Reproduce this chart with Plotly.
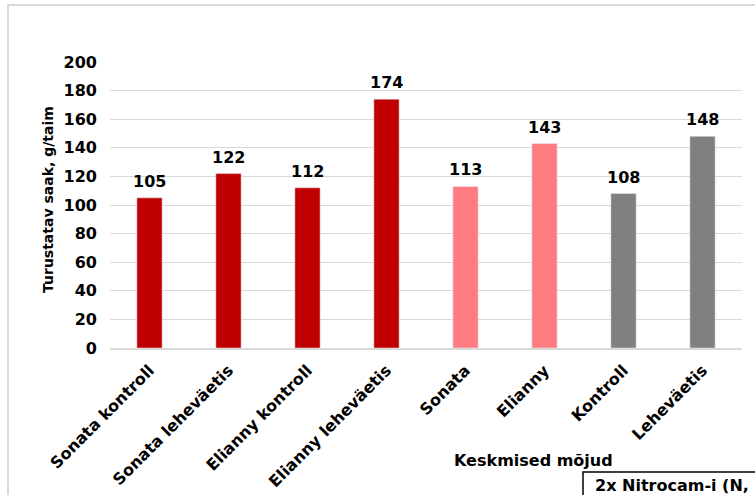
import plotly.graph_objects as go

categories = ["Sonata kontroll", "Sonata leheväetis", "Elianny kontroll", "Elianny leheväetis",
              "Sonata", "Elianny", "Kontroll", "Leheväetis"]
values = [105, 122, 112, 174, 113, 143, 108, 148]
colors = ["#C00000", "#C00000", "#C00000", "#C00000", "#FF7C80", "#FF7C80", "#808080", "#808080"]
y_ticks = [0, 20, 40, 60, 80, 100, 120, 140, 160, 180, 200]

FONT = "DejaVu Sans"
W, H = 755, 495
L, R, T, B = 110, 13, 62, 147
pw, ph = W - L - R, H - T - B

def px(x):
    return (x - L) / pw

def py(y):
    return (H - B - y) / ph

fig = go.Figure(go.Bar(
    x=categories, y=values, marker_color=colors,
    cliponaxis=False,
))

label_annotations = [
    dict(text=str(v), x=c, y=v, xref="x", yref="y", showarrow=False,
         yanchor="bottom", xanchor="center", yshift=5,
         font=dict(family=FONT, size=16, color="#000000", weight="bold"))
    for c, v in zip(categories, values)
]

fig.update_layout(
    width=W, height=H,
    margin=dict(l=L, r=R, t=T, b=B, autoexpand=False),
    plot_bgcolor="white", paper_bgcolor="white",
    bargap=0.68, showlegend=False,
    font=dict(family=FONT, color="#000000"),
    xaxis=dict(
        tickangle=-45, tickfont=dict(family=FONT, size=16, color="#000000", weight="bold"),
        showline=True, linecolor="#D9D9D9", linewidth=1.5, ticks="",
        showgrid=False, automargin=False, ticklabelstandoff=5,
    ),
    yaxis=dict(
        range=[0, 200], tickvals=y_ticks,
        tickfont=dict(family=FONT, size=16, color="#000000", weight="bold"),
        showgrid=True, gridcolor="#D9D9D9", gridwidth=1,
        zeroline=False, ticks="", ticklabelstandoff=12, automargin=False,
    ),
    shapes=[
        dict(type="rect", xref="paper", yref="paper",
             x0=px(8), x1=px(770), y0=py(5), y1=py(510),
             line=dict(color="#D9D9D9", width=2), fillcolor="rgba(0,0,0,0)", layer="below"),
        dict(type="rect", xref="paper", yref="paper",
             x0=px(583), x1=px(770), y0=py(472), y1=py(510),
             line=dict(color="#000000", width=1.5), fillcolor="white"),
    ],
    annotations=label_annotations + [
        dict(text="Turustatav saak, g/taim", xref="paper", yref="paper",
             x=px(48), y=py(200), textangle=-90, showarrow=False,
             font=dict(family=FONT, size=14, color="#000000", weight="bold"),
             xanchor="center", yanchor="middle"),
        dict(text="Keskmised mõjud", xref="paper", yref="paper",
             x=px(533), y=py(461), showarrow=False,
             font=dict(family=FONT, size=16, color="#000000", weight="bold"),
             xanchor="center", yanchor="middle"),
        dict(text="2x Nitrocam-i (N,", xref="paper", yref="paper",
             x=px(593), y=py(485), showarrow=False,
             font=dict(family=FONT, size=16, color="#000000", weight="bold"),
             xanchor="left", yanchor="middle"),
    ],
)

fig.write_html("out.html")
